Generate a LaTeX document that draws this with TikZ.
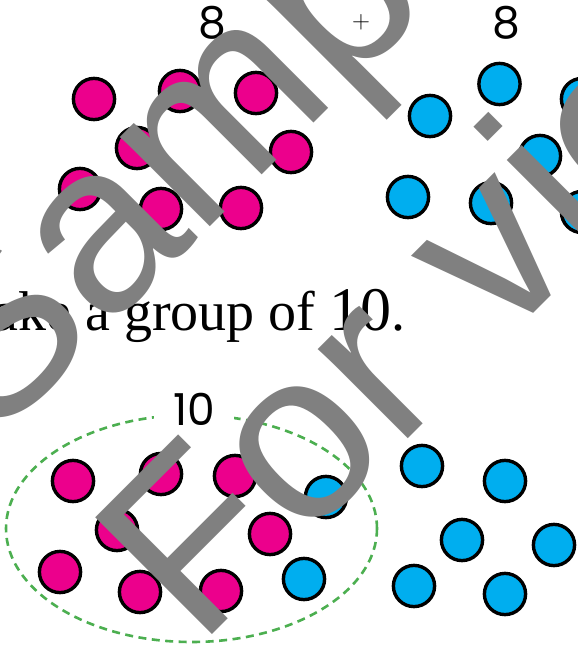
\documentclass[tikz,border=0pt]{standalone}
\usepackage[no-math]{fontspec}
\setmainfont{Liberation Serif}
\newfontfamily\wmfont{Liberation Sans}
\newfontfamily\numfont{Poppins}
\usetikzlibrary{shapes.geometric}
\definecolor{dotpink}{HTML}{EC008C}
\definecolor{dotblue}{HTML}{00AEEF}
\definecolor{ringgreen}{HTML}{4CAF50}
\definecolor{wmgray}{HTML}{808080}

\begin{document}
\begin{tikzpicture}[x=1pt,y=-1pt,
  counter/.style={circle,draw=black,line width=3.4pt,minimum size=41.2pt,inner sep=0pt},
  pinkdot/.style={counter,fill=dotpink},
  bluedot/.style={counter,fill=dotblue},
  numlabel/.style={font=\numfont\fontsize{44}{44}\selectfont,inner sep=0pt},
  watermark/.style={font=\wmfont\fontsize{240}{240}\selectfont,text=wmgray,
    inner sep=0pt,anchor=base west,rotate=45}]
\useasboundingbox (0,0) rectangle (578,646);
\clip (0,0) rectangle (578,646);
\fill[white] (0,0) rectangle (578,646);

% top row: 8 + 8
\node[numlabel] (eightL) at (212.5,22.5) {8};
\node[font=\fontsize{33}{33}\selectfont,inner sep=0pt] (plus) at (361,22) {$+$};
\node[numlabel] (eightR) at (506,23) {8};

\node[pinkdot] (p1) at (94,99) {};
\node[pinkdot] (p2) at (180,91) {};
\node[pinkdot] (p3) at (256,93) {};
\node[pinkdot] (p4) at (137,148) {};
\node[pinkdot] (p5) at (291,152) {};
\node[pinkdot] (p6) at (80,189) {};
\node[pinkdot] (p7) at (161,209) {};
\node[pinkdot] (p8) at (241,208) {};

\node[bluedot] (b1) at (430,116) {};
\node[bluedot] (b2) at (499.5,84) {};
\node[bluedot] (b3) at (582,99) {};
\node[bluedot] (b4) at (540,156) {};
\node[bluedot] (b5) at (408,197) {};
\node[bluedot] (b6) at (491,203) {};
\node[bluedot] (b7) at (582,212) {};

% instruction line
\node[font=\fontsize{56}{56}\selectfont,anchor=base west,inner sep=0pt] (prompt)
  at (-56.5,330) {Make a group of {\fontsize{62}{62}\selectfont 10}.};

% the group of ten
\node[ellipse,draw=ringgreen,line width=2.6pt,dash pattern=on 8pt off 5.5pt,
  minimum width=371pt,minimum height=227pt,inner sep=0pt] (group) at (191.5,528.5) {};
\node[numlabel,fill=white,minimum width=80pt,minimum height=36pt] (ten) at (194,409) {10};

\node[pinkdot] (q1) at (73,481) {};
\node[pinkdot] (q2) at (161,474) {};
\node[pinkdot] (q3) at (235,476) {};
\node[pinkdot] (q4) at (117,530) {};
\node[pinkdot] (q5) at (270,534) {};
\node[pinkdot] (q6) at (60,572) {};
\node[pinkdot] (q7) at (140,592) {};
\node[pinkdot] (q8) at (221,591) {};

\node[bluedot] (c1) at (326,497) {};
\node[bluedot] (c2) at (304,579) {};
\node[bluedot] (c3) at (422,466) {};
\node[bluedot] (c4) at (505,481) {};
\node[bluedot] (c5) at (462,540) {};
\node[bluedot] (c6) at (554,545) {};
\node[bluedot] (c7) at (414,586) {};
\node[bluedot] (c8) at (505,594) {};

% watermark
\node[watermark] (wmA) at (-8.8,445.8) {Sample};
\node[watermark] (wmB) at (198.5,648.5) {For view};
\end{tikzpicture}
\end{document}
